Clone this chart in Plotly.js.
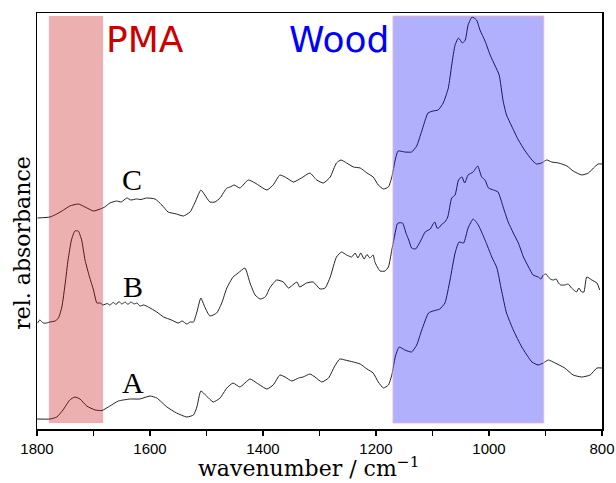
<!DOCTYPE html>
<html>
<head>
<meta charset="utf-8">
<script src="https://cdn.plot.ly/plotly-3.0.1.min.js"></script>
<style>html,body{margin:0;padding:0;background:#fff;}#chart{width:616px;height:483px;}</style>
</head>
<body>
<div id="chart"></div>
<script>
// Spectrum A (bottom)
const waveA = [1800,1777,1765,1754,1742,1733,1724,1712,1697,1685,1671,1656,1635,1618,1600,1588,1570,1553,1535,1523,1517,1510,1500,1488,1476,1464,1453,1441,1423,1411,1393,1382,1370,1361,1349,1337,1329,1317,1308,1296,1284,1273,1264,1255,1240,1228,1216,1205,1196,1187,1178,1172,1166,1159,1149,1137,1128,1119,1107,1099,1087,1078,1069,1060,1053,1045,1037,1028,1019,1007,995,986,978,969,957,942,924,913,904,895,883,866,851,836,821,809,800];
const absA  = [0.10,0.10,0.12,0.19,0.29,0.32,0.30,0.23,0.19,0.185,0.23,0.28,0.30,0.30,0.33,0.31,0.22,0.16,0.12,0.14,0.22,0.38,0.33,0.27,0.31,0.41,0.46,0.42,0.50,0.46,0.40,0.44,0.54,0.52,0.48,0.51,0.52,0.55,0.52,0.47,0.51,0.63,0.70,0.69,0.67,0.65,0.60,0.56,0.47,0.41,0.44,0.54,0.72,0.82,0.79,0.77,0.84,0.99,1.16,1.18,1.20,1.26,1.49,1.76,1.87,1.86,2.01,2.10,2.04,1.89,1.72,1.61,1.39,1.16,0.99,0.82,0.67,0.64,0.66,0.69,0.66,0.61,0.54,0.52,0.54,0.61,0.61];

// Spectrum B (middle)
const waveB = [1799,1795,1789,1783,1777,1768,1762,1756,1750,1745,1739,1733,1727,1721,1715,1707,1700,1694,1688,1683,1676,1671,1665,1660,1655,1650,1644,1639,1634,1628,1623,1618,1611,1603,1588,1576,1562,1550,1543,1535,1529,1523,1517,1510,1503,1494,1482,1473,1464,1453,1444,1432,1423,1414,1405,1396,1388,1376,1364,1355,1340,1335,1323,1311,1299,1290,1281,1270,1261,1252,1243,1237,1232,1227,1221,1216,1211,1205,1202,1193,1184,1178,1172,1163,1161,1153,1147,1142,1137,1130,1122,1113,1104,1099,1096,1092,1089,1083,1078,1073,1066,1060,1054,1048,1043,1037,1028,1020,1013,1007,1001,992,984,975,966,957,948,939,930,922,913,908,904,899,895,890,886,881,877,873,866,860,854,850,845,841,836,832,827,818,809,804];
const absB  = [1.06,1.09,1.06,1.06,1.07,1.08,1.11,1.22,1.46,1.69,1.89,1.98,1.98,1.89,1.69,1.52,1.39,1.26,1.26,1.24,1.255,1.24,1.265,1.245,1.275,1.25,1.27,1.245,1.27,1.25,1.26,1.23,1.24,1.22,1.17,1.12,1.09,1.06,1.08,1.05,1.07,1.07,1.17,1.31,1.22,1.13,1.16,1.26,1.41,1.52,1.56,1.61,1.46,1.34,1.30,1.32,1.41,1.49,1.47,1.41,1.47,1.42,1.46,1.47,1.40,1.41,1.52,1.72,1.77,1.74,1.72,1.76,1.71,1.76,1.70,1.745,1.71,1.74,1.67,1.58,1.58,1.62,1.79,2.04,2.06,2.06,1.96,1.89,1.81,1.80,1.87,1.97,2.00,2.05,2.07,2.01,2.01,2.05,2.07,2.12,2.31,2.34,2.49,2.52,2.46,2.54,2.57,2.63,2.52,2.49,2.41,2.39,2.37,2.22,2.07,1.96,1.86,1.72,1.62,1.54,1.52,1.50,1.54,1.55,1.52,1.495,1.49,1.50,1.46,1.44,1.44,1.45,1.41,1.39,1.37,1.41,1.37,1.37,1.52,1.49,1.46,1.39];

// Spectrum C (top)
const waveC = [1799,1777,1765,1753,1742,1727,1715,1700,1688,1680,1671,1659,1651,1641,1634,1624,1616,1606,1591,1579,1568,1553,1541,1529,1520,1510,1503,1494,1485,1476,1464,1458,1451,1441,1426,1414,1393,1382,1370,1358,1346,1332,1317,1305,1293,1281,1270,1262,1252,1240,1228,1216,1205,1196,1187,1178,1172,1166,1161,1149,1137,1128,1119,1108,1099,1090,1081,1072,1066,1060,1054,1047,1042,1037,1030,1022,1016,1007,998,989,982,975,969,960,948,936,924,916,907,898,889,877,862,851,836,824,815,807,800];
const absC  = [2.11,2.12,2.15,2.19,2.23,2.25,2.22,2.18,2.20,2.22,2.26,2.28,2.27,2.31,2.29,2.30,2.295,2.31,2.30,2.24,2.17,2.15,2.13,2.17,2.27,2.39,2.34,2.27,2.27,2.31,2.41,2.42,2.44,2.41,2.49,2.46,2.39,2.44,2.54,2.51,2.47,2.51,2.56,2.49,2.46,2.52,2.66,2.69,2.66,2.62,2.61,2.56,2.52,2.44,2.40,2.42,2.52,2.69,2.78,2.77,2.77,2.83,2.98,3.16,3.18,3.19,3.26,3.41,3.64,3.84,3.91,3.86,3.89,4.04,4.12,4.09,3.99,3.88,3.74,3.63,3.54,3.28,3.14,3.03,2.89,2.78,2.69,2.65,2.66,2.69,2.67,2.66,2.63,2.58,2.54,2.56,2.61,2.65,2.65];

// Highlighted bands (wavenumber limits) and their labels
const pmaBand  = [1779, 1683];
const woodBand = [1170, 903];
const bandLabels = ["PMA", "Wood"];
const seriesLabels = ["A", "B", "C"];
const tickVals = [1800, 1600, 1400, 1200, 1000, 800];

const lineStyle = {color: '#222', width: 1, shape: 'spline', smoothing: 0.5};
const traces = [
  {x: waveA, y: absA, mode: 'lines', line: lineStyle, name: 'A', hoverinfo: 'skip'},
  {x: waveB, y: absB, mode: 'lines', line: lineStyle, name: 'B', hoverinfo: 'skip'},
  {x: waveC, y: absC, mode: 'lines', line: lineStyle, name: 'C', hoverinfo: 'skip'}
];

const serif = 'DejaVu Serif, Liberation Serif, serif';
const letterFont = {family: 'Liberation Serif, Times New Roman, serif', size: 30, color: '#000'};
const layout = {
  width: 616, height: 483,
  margin: {l: 37, r: 14, t: 13, b: 54, pad: 0},
  paper_bgcolor: '#fff', plot_bgcolor: '#fff',
  showlegend: false,
  xaxis: {
    range: [1800, 800], autorange: false,
    tickvals: tickVals, ticktext: tickVals.map(String),
    ticks: 'outside', ticklen: 5, tickwidth: 1.2, tickcolor: '#000',
    minor: {dtick: 100, ticks: 'outside', ticklen: 5, tickwidth: 1.2, tickcolor: '#000'},
    showline: true, linecolor: '#000', linewidth: 1.5, mirror: true,
    showgrid: false, zeroline: false,
    tickfont: {family: 'Liberation Sans, Arial, sans-serif', size: 15, color: '#000'}
  },
  yaxis: {
    range: [0, 4.16], autorange: false,
    showticklabels: false, ticks: '',
    showline: true, linecolor: '#000', linewidth: 1.5, mirror: true,
    showgrid: false, zeroline: false
  },
  shapes: [
    {type: 'rect', xref: 'x', yref: 'y', x0: pmaBand[0], x1: pmaBand[1], y0: 0.06, y1: 4.13,
     fillcolor: 'rgba(195,0,0,0.31)', line: {width: 0}, layer: 'above'},
    {type: 'rect', xref: 'x', yref: 'y', x0: woodBand[0], x1: woodBand[1], y0: 0.06, y1: 4.13,
     fillcolor: 'rgba(0,0,245,0.31)', line: {width: 1, color: 'rgba(240,180,200,0.8)'}, layer: 'above'}
  ],
  annotations: [
    {text: bandLabels[0], xref: 'x', yref: 'y', x: 1609, y: 3.90, showarrow: false,
     xanchor: 'center', yanchor: 'middle', font: {family: 'DejaVu Sans, sans-serif', size: 36, color: '#cc0000'}},
    {text: bandLabels[1], xref: 'x', yref: 'y', x: 1265, y: 3.90, showarrow: false,
     xanchor: 'center', yanchor: 'middle', font: {family: 'DejaVu Sans, sans-serif', size: 36, color: '#0000ff'}},
    {text: seriesLabels[0], xref: 'x', yref: 'y', x: 1630, y: 0.47, showarrow: false,
     xanchor: 'center', yanchor: 'middle', font: letterFont},
    {text: seriesLabels[1], xref: 'x', yref: 'y', x: 1630, y: 1.43, showarrow: false,
     xanchor: 'center', yanchor: 'middle', font: letterFont},
    {text: seriesLabels[2], xref: 'x', yref: 'y', x: 1632, y: 2.50, showarrow: false,
     xanchor: 'center', yanchor: 'middle', font: letterFont},
    {text: 'wavenumber / cm<sup>−1</sup>', xref: 'paper', yref: 'paper', x: 0.481, y: -0.092,
     showarrow: false, xanchor: 'center', yanchor: 'middle', font: {family: serif, size: 22, color: '#000'}},
    {text: 'rel. absorbance', xref: 'paper', yref: 'paper', x: -0.027, y: 0.447, textangle: -90,
     showarrow: false, xanchor: 'center', yanchor: 'middle', font: {family: serif, size: 22, color: '#000'}}
  ]
};

Plotly.newPlot('chart', traces, layout, {staticPlot: true, displayModeBar: false});
</script>
</body>
</html>
